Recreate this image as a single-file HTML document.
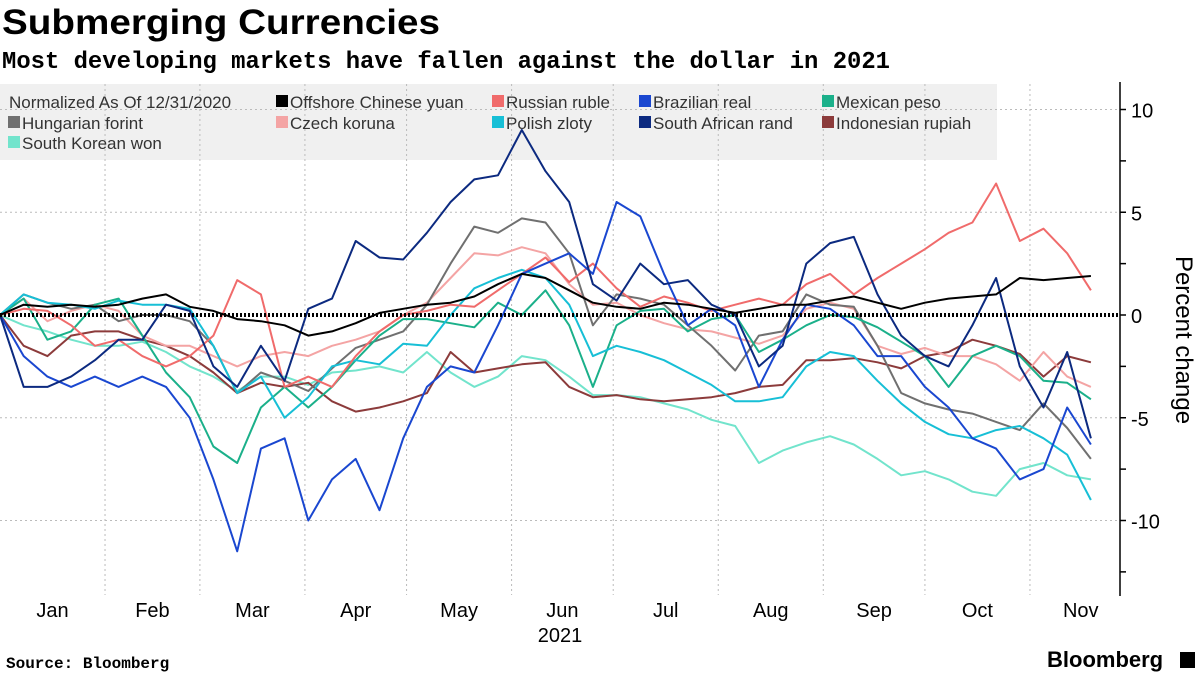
<!DOCTYPE html>
<html><head><meta charset="utf-8"><style>
body{margin:0;background:#fff;width:1200px;height:675px;overflow:hidden;font-family:"Liberation Sans",sans-serif}
svg text{font-family:"Liberation Sans",sans-serif}
</style></head><body>
<svg id="chart" width="1200" height="675" viewBox="0 0 1200 675" xmlns="http://www.w3.org/2000/svg">
<text x="2" y="34" font-size="35" font-weight="bold" textLength="438" lengthAdjust="spacingAndGlyphs" fill="#000">Submerging Currencies</text>
<text x="2" y="68" font-size="24" font-weight="bold" style="font-family:'Liberation Mono',monospace" textLength="888" lengthAdjust="spacingAndGlyphs" fill="#000">Most developing markets have fallen against the dollar in 2021</text>
<rect x="0" y="84" width="997" height="76" fill="#f0f0f0"/>
<g id="grid"></g>
<g id="series"></g>
<g id="legend"></g>
<g id="axes"></g>
<text transform="translate(1176,340) rotate(90)" text-anchor="middle" font-size="24" fill="#000">Percent change</text>
<text x="6" y="668" font-size="16" font-weight="bold" style="font-family:'Liberation Mono',monospace" fill="#000">Source: Bloomberg</text>
<text x="1047" y="667" font-size="22" font-weight="bold" fill="#000">Bloomberg</text>
<rect x="1180" y="652" width="15" height="16" fill="#000"/>
</svg>
<script>
const days=[];for(let d=0;d<=322;d+=7)days.push(d);
const yuan=[0,0.5,0.4,0.5,0.4,0.5,0.8,1.0,0.4,0.2,-0.2,-0.3,-0.5,-1.0,-0.8,-0.4,0.1,0.3,0.5,0.6,0.9,1.5,2.0,1.8,1.2,0.6,0.4,0.3,0.6,0.5,0.3,0.1,0.3,0.5,0.5,0.7,0.9,0.6,0.3,0.6,0.8,0.9,1.0,1.8,1.7,1.8,1.9];
const ruble=[0,0.3,0.2,-0.5,-1.5,-1.2,-2.0,-2.5,-2.0,-1.0,1.7,1.0,-3.5,-3.0,-3.5,-2.0,-0.8,0.0,0.2,0.5,0.4,1.2,2.0,2.8,1.6,2.5,1.3,0.4,0.9,0.6,0.2,0.5,0.8,0.5,1.5,2.0,1.0,1.8,2.5,3.2,4.0,4.5,6.4,3.6,4.2,3.0,1.2];
const real=[0,-2.0,-3.0,-3.5,-3.0,-3.5,-3.0,-3.5,-5.0,-8.0,-11.5,-6.5,-6.0,-10.0,-8.0,-7.0,-9.5,-6.0,-3.5,-2.5,-2.8,-0.5,2.0,2.5,3.0,2.0,5.5,4.8,2.0,-0.5,0.3,-0.5,-3.5,-1.2,0.5,0.3,-0.5,-2.0,-2.0,-3.5,-4.5,-6.0,-6.5,-8.0,-7.5,-4.5,-6.3];
const peso=[0,0.8,-1.2,-0.8,0.5,0.8,-1.0,-2.8,-4.0,-6.4,-7.2,-4.5,-3.5,-4.5,-3.5,-2.2,-1.0,-0.2,-0.2,-0.4,-0.6,0.6,0.0,1.2,-0.5,-3.5,-0.5,0.2,0.3,-0.8,-0.2,0.0,-1.8,-1.2,-0.5,0.0,-0.1,-0.6,-1.3,-2.0,-3.5,-2.0,-1.5,-2.0,-3.2,-3.3,-4.1];
const forint=[0,1.0,0.6,0.3,0.5,-0.3,0.0,0.0,-0.3,-1.5,-3.8,-2.8,-3.2,-3.7,-2.6,-1.6,-1.2,-0.8,0.5,2.5,4.3,4.0,4.7,4.5,3.0,-0.5,1.0,0.8,0.5,-0.5,-1.5,-2.7,-1.0,-0.8,1.0,0.5,0.4,-1.5,-3.8,-4.3,-4.6,-4.8,-5.2,-5.6,-4.3,-5.5,-7.0];
const koruna=[0,0.8,-0.3,0.2,0.5,0.2,-1.0,-1.5,-1.5,-2.0,-2.5,-2.0,-1.8,-2.0,-1.5,-1.2,-0.8,0.0,0.6,1.8,3.0,2.9,3.3,3.0,1.5,0.5,0.6,0.0,-0.4,-0.7,-0.8,-1.1,-1.4,-1.0,0.3,0.6,0.3,-1.5,-1.9,-1.6,-2.0,-2.0,-2.4,-3.2,-1.8,-3.0,-3.5];
const zloty=[0,1.0,0.6,0.5,0.3,0.7,0.5,0.5,0.3,-1.5,-3.8,-3.0,-5.0,-4.0,-2.5,-2.2,-2.4,-1.4,-1.5,0.0,1.3,1.8,2.2,1.8,0.5,-2.0,-1.5,-1.8,-2.2,-2.8,-3.4,-4.2,-4.2,-4.0,-2.5,-1.8,-2.0,-3.2,-4.3,-5.2,-5.8,-6.0,-5.6,-5.4,-6.0,-6.8,-9.0];
const rand=[0,-3.5,-3.5,-3.0,-2.2,-1.2,-1.2,0.5,0.2,-2.5,-3.5,-1.5,-3.2,0.3,0.8,3.6,2.8,2.7,4.0,5.5,6.6,6.8,9.0,7.0,5.5,1.5,0.7,2.5,1.5,1.7,0.5,0.0,-2.5,-1.5,2.5,3.5,3.8,1.0,-1.0,-2.0,-2.5,-0.5,1.8,-2.5,-4.5,-1.8,-6.0];
const rupiah=[0,-1.5,-2.0,-1.0,-0.8,-0.8,-1.2,-1.5,-2.0,-2.8,-3.8,-3.3,-3.5,-3.3,-4.2,-4.7,-4.5,-4.2,-3.8,-1.8,-2.8,-2.6,-2.4,-2.3,-3.5,-4.0,-3.9,-4.1,-4.2,-4.1,-4.0,-3.8,-3.5,-3.4,-2.2,-2.2,-2.1,-2.3,-2.6,-2.0,-1.8,-1.2,-1.5,-1.9,-3.0,-2.0,-2.3];
const won=[0,-0.5,-0.8,-1.2,-1.5,-1.5,-1.3,-1.8,-2.5,-3.0,-3.7,-3.0,-3.0,-3.4,-2.8,-2.7,-2.5,-2.8,-1.8,-2.8,-3.5,-3.0,-2.0,-2.2,-3.0,-3.9,-3.9,-4.0,-4.3,-4.6,-5.1,-5.4,-7.2,-6.6,-6.2,-5.9,-6.3,-7.0,-7.8,-7.6,-8.0,-8.6,-8.8,-7.5,-7.2,-7.8,-8.0];
const monthNames=["Jan","Feb","Mar","Apr","May","Jun","Jul","Aug","Sep","Oct","Nov"];
const monthStarts=[0,31,59,90,120,151,181,212,243,273,304];
const yTicks=[10,5,0,-5,-10];
const legendLabels=["Offshore Chinese yuan","Russian ruble","Brazilian real","Mexican peso","Hungarian forint","Czech koruna","Polish zloty","South African rand","Indonesian rupiah","South Korean won"];

const NS="http://www.w3.org/2000/svg";
const X=d=>d*3.388;
const Y=v=>315-v*20.55;
function mk(tag,attrs,parent){const e=document.createElementNS(NS,tag);for(const k in attrs)e.setAttribute(k,attrs[k]);parent.appendChild(e);return e;}
const grid=document.getElementById('grid'),axes=document.getElementById('axes'),sg=document.getElementById('series'),lg=document.getElementById('legend');
monthStarts.forEach((d,i)=>{
  if(d>0){const l=mk('line',{x1:X(d),x2:X(d),y1:84,y2:595,stroke:'#bbb','stroke-width':1,'stroke-dasharray':'2,3'},grid);
  
  }
  const next=i<monthStarts.length-1?monthStarts[i+1]:334;
  const t=mk('text',{x:X((d+next)/2),y:617,'text-anchor':'middle','font-size':20,fill:'#000'},axes);
  t.textContent=monthNames[i];
  
  
});
const yr=mk('text',{x:560,y:642,'text-anchor':'middle','font-size':20,fill:'#000'},axes);
yr.textContent='2021';


yTicks.forEach(v=>{
  if(v!==0){const l=mk('line',{x1:0,x2:1120,y1:Y(v),y2:Y(v),stroke:'#bbb','stroke-width':1,'stroke-dasharray':'2,3'},grid);
  
  }
  const t=mk('text',{x:1131,y:Y(v)+8,'font-size':20,fill:'#000'},axes);
  t.textContent=v;
  
  
});
for(let v=-12.5;v<=10;v+=2.5){const tk=mk('line',{x1:1120,x2:1126,y1:Y(v),y2:Y(v),stroke:'#000','stroke-width':1.5},axes);

}
const ax=mk('line',{x1:1120,x2:1120,y1:82,y2:596,stroke:'#000','stroke-width':1.5},axes);


const series=[[won,'#72e4cc','south-korean-won'],[rupiah,'#8c3b3b','indonesian-rupiah'],[koruna,'#f4a4a4','czech-koruna'],[forint,'#707070','hungarian-forint'],[peso,'#1bb08a','mexican-peso'],[zloty,'#17bfd6','polish-zloty'],[ruble,'#f06b6b','russian-ruble'],[real,'#1a47d0','brazilian-real'],[rand,'#0c2a80','south-african-rand'],[yuan,'#000000','offshore-chinese-yuan']];
series.forEach(([vals,col,name])=>{
  const p=mk('polyline',{points:vals.map((v,i)=>X(days[i]).toFixed(1)+','+Y(v).toFixed(1)).join(' '),fill:'none',stroke:col,'stroke-width':2,'stroke-linejoin':'round'},sg);
  
  
});
const zl=mk('line',{x1:0,x2:1120,y1:315,y2:315,stroke:'#000','stroke-width':4,'stroke-dasharray':'2,2'},sg);


const lt=mk('text',{x:9,y:108,'font-size':17,fill:'#333'},lg);
lt.textContent='Normalized As Of 12/31/2020';


const lcols=['#000000','#f06b6b','#1a47d0','#1bb08a','#707070','#f4a4a4','#17bfd6','#0c2a80','#8c3b3b','#72e4cc'];
const lx=[276,492,639,822,8,276,492,639,822,8];
const ly=[102,102,102,102,123,123,123,123,123,143];
legendLabels.forEach((lab,i)=>{
  const r=mk('rect',{x:lx[i],y:ly[i]-7,width:12,height:12,fill:lcols[i]},lg);
  
  
  const t=mk('text',{x:lx[i]+14,y:ly[i]+6,'font-size':17,fill:'#333'},lg);
  t.textContent=lab;
  
  
});
</script>
</body></html>
